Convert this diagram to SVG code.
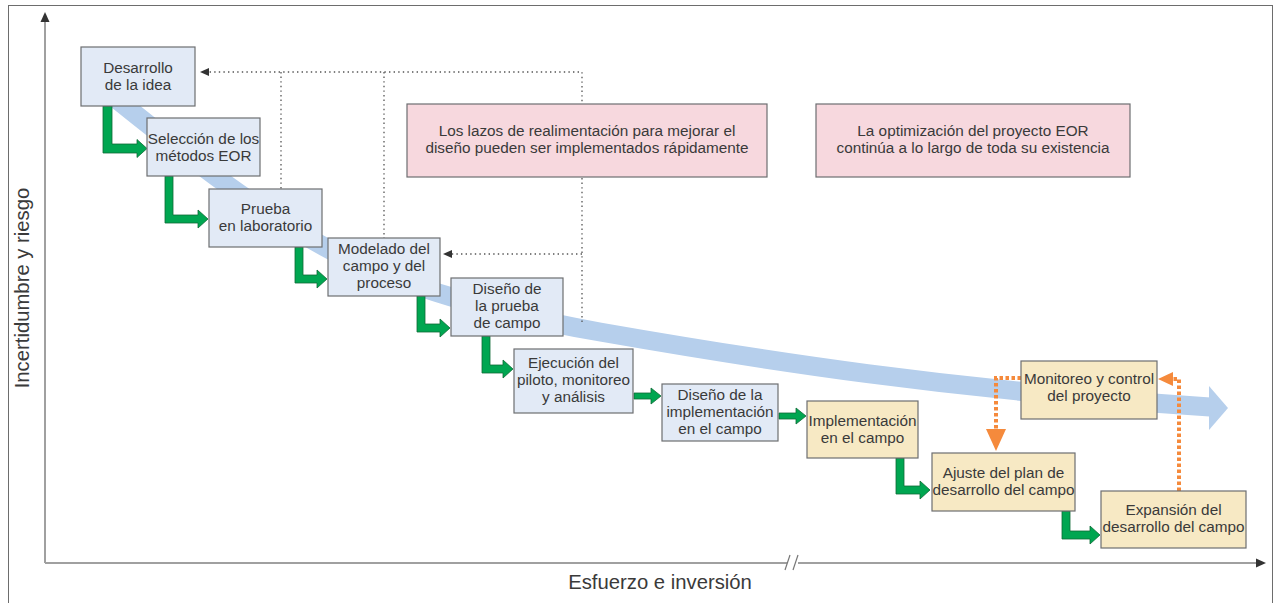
<svg xmlns="http://www.w3.org/2000/svg" width="1279" height="603" viewBox="0 0 1279 603">
<defs>
<style>
.t{font-family:"Liberation Sans",Arial,sans-serif;font-size:15.3px;fill:#3a3a3a;text-anchor:middle}
.ax{font-family:"Liberation Sans",Arial,sans-serif;font-size:20.3px;fill:#3a3a3a;text-anchor:middle}
.bl{fill:#e2eaf6;stroke:#6d6e71;stroke-width:1.2}
.ye{fill:#f7e9c4;stroke:#6d6e71;stroke-width:1.2}
.pk{fill:#f7d8de;stroke:#6d6e71;stroke-width:1.2}
.dot{fill:none;stroke:#555;stroke-width:1.3;stroke-dasharray:1.4 3.2}
.or{fill:none;stroke:#f58a3c;stroke-width:4;stroke-dasharray:3.5 2.5}
.ga{fill:#00a651;stroke:#0d6b35;stroke-width:0.8}
.axl{stroke:#a0a0a0;stroke-width:2;fill:none}
</style>
</defs>
<rect x="0" y="0" width="1279" height="603" fill="#ffffff"/>
<rect x="8.5" y="5.5" width="1264" height="620" fill="none" stroke="#6d6d6d" stroke-width="1"/>

<g id="axes">
<line class="axl" x1="45" y1="563" x2="45" y2="21"/>
<polygon points="45,12 40.5,22 49.5,22" fill="#333"/>
<line class="axl" x1="45" y1="563" x2="787" y2="563"/>
<line class="axl" x1="798" y1="563" x2="1257" y2="563"/>
<polygon points="1266,563 1256,558.5 1256,567.5" fill="#333"/>
<line x1="785" y1="570" x2="790" y2="555" stroke="#777" stroke-width="1.2"/>
<line x1="793" y1="570" x2="798" y2="555" stroke="#777" stroke-width="1.2"/>
<text class="ax" x="660" y="589">Esfuerzo e inversión</text>
<text class="ax" transform="translate(29,288) rotate(-90)" x="0" y="0">Incertidumbre y riesgo</text>
</g>

<g id="band">
<path d="M115,98 C180,150 260,215 340,255 C420,293 520,318 600,332 C760,360 950,390 1210,407" fill="none" stroke="#b6cfec" stroke-width="19"/>
<polygon points="1209,386 1228,408 1209,430" fill="#b6cfec"/>
</g>

<g id="connectors">
<polyline class="dot" points="582,322 582,72 208,72"/>
<polygon points="200,72 209,68 209,76" fill="#333"/>
<line class="dot" x1="281" y1="72" x2="281" y2="189"/>
<line class="dot" x1="384" y1="72" x2="384" y2="238"/>
<line class="dot" x1="582" y1="254" x2="451" y2="254"/>
<polygon points="443,254 452,250 452,258" fill="#333"/>

<path class="ga" d="M103,106 H112 V144 H137 V139.5 L147,148.5 L137,157.5 V153 H103 Z"/>
<path class="ga" d="M165,176 H173 V215 H198 V210 L208,219 L198,228 V223 H165 Z"/>
<path class="ga" d="M295,247 H303 V275 H317 V270 L327,279 L317,288 V283 H295 Z"/>
<path class="ga" d="M417,296 H425 V324 H440 V319 L450,328 L440,337 V332 H417 Z"/>
<path class="ga" d="M482,336 H490 V365 H503 V360 L513,369 L503,378 V373 H482 Z"/>
<path class="ga" d="M634,393 H651 V388 L661,396 L651,404 V399 H634 Z"/>
<path class="ga" d="M779,413 H796 V408 L806,416 L796,424 V419 H779 Z"/>
<path class="ga" d="M896,458 H904 V486 H920 V481 L930,490 L920,499 V494 H896 Z"/>
<path class="ga" d="M1062,511 H1070 V531 H1090 V526 L1100,535 L1090,544 V539 H1062 Z"/>

<polyline class="or" points="1021,378 996,378 996,430"/>
<polygon points="986,429 1006,429 996,451" fill="#f58a3c"/>
<polyline class="or" points="1179,491 1179,379 1171,379"/>
<polygon points="1173,372 1173,386 1158,379" fill="#f58a3c"/>
</g>

<g id="n1"><rect class="bl" x="81" y="47" width="114" height="59"/><text class="t" x="138" y="73">Desarrollo</text><text class="t" x="138" y="90">de la idea</text></g>
<g id="n2"><rect class="bl" x="147" y="118" width="113" height="58"/><text class="t" x="203.5" y="143.5">Selección de los</text><text class="t" x="203.5" y="160.5">métodos EOR</text></g>
<g id="n3"><rect class="bl" x="209" y="189" width="113" height="58"/><text class="t" x="265.5" y="214">Prueba</text><text class="t" x="265.5" y="231">en laboratorio</text></g>
<g id="n4"><rect class="bl" x="328" y="238" width="112" height="58"/><text class="t" x="384" y="254">Modelado del</text><text class="t" x="384" y="271">campo y del</text><text class="t" x="384" y="288">proceso</text></g>
<g id="n5"><rect class="bl" x="451" y="278" width="112" height="58"/><text class="t" x="507" y="294">Diseño de</text><text class="t" x="507" y="311">la prueba</text><text class="t" x="507" y="328">de campo</text></g>
<g id="n6"><rect class="bl" x="514" y="349" width="119" height="64"/><text class="t" x="573.5" y="368">Ejecución del</text><text class="t" x="573.5" y="385">piloto, monitoreo</text><text class="t" x="573.5" y="402">y análisis</text></g>
<g id="n7"><rect class="bl" x="662" y="384" width="116" height="57"/><text class="t" x="720" y="400">Diseño de la</text><text class="t" x="720" y="417">implementación</text><text class="t" x="720" y="434">en el campo</text></g>
<g id="n8"><rect class="ye" x="807" y="401" width="111" height="57"/><text class="t" x="862.5" y="426">Implementación</text><text class="t" x="862.5" y="443">en el campo</text></g>
<g id="n9"><rect class="ye" x="932" y="453" width="143" height="58"/><text class="t" x="1003.5" y="478">Ajuste del plan de</text><text class="t" x="1003.5" y="495">desarrollo del campo</text></g>
<g id="n10"><rect class="ye" x="1101" y="491" width="145" height="57"/><text class="t" x="1173.5" y="515">Expansión del</text><text class="t" x="1173.5" y="532">desarrollo del campo</text></g>
<g id="n11"><rect class="ye" x="1021" y="361" width="136" height="58"/><text class="t" x="1089" y="384">Monitoreo y control</text><text class="t" x="1089" y="401">del proyecto</text></g>
<g id="noteA"><rect class="pk" x="407" y="104" width="360" height="73"/><text class="t" x="587" y="136">Los lazos de realimentación para mejorar el</text><text class="t" x="587" y="153">diseño pueden ser implementados rápidamente</text></g>
<g id="noteB"><rect class="pk" x="816" y="104" width="314" height="73"/><text class="t" x="973" y="136">La optimización del proyecto EOR</text><text class="t" x="973" y="153">continúa a lo largo de toda su existencia</text></g>
</svg>
